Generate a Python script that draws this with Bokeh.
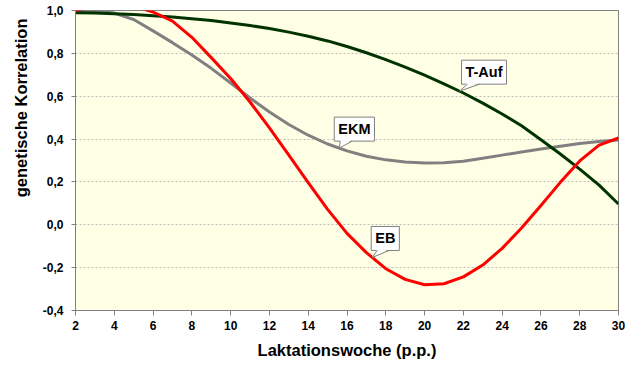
import numpy as np
from bokeh.plotting import figure
from bokeh.models import Label, Title, FixedTicker, CustomJSTickFormatter, Range1d
from bokeh.embed import file_html
from bokeh.resources import INLINE

# ---- data ----
weeks = list(range(2, 31))
t_auf = [0.99, 0.988, 0.985, 0.981, 0.976, 0.97, 0.962, 0.953, 0.942, 0.93,
         0.916, 0.899, 0.88, 0.858, 0.832, 0.803, 0.771, 0.736, 0.698, 0.658,
         0.615, 0.568, 0.517, 0.462, 0.397, 0.33, 0.26, 0.185, 0.097]
ekm = [1.0, 0.998, 0.988, 0.958, 0.905, 0.85, 0.792, 0.73, 0.662, 0.592,
       0.526, 0.468, 0.418, 0.377, 0.345, 0.32, 0.303, 0.293, 0.288, 0.289,
       0.296, 0.31, 0.325, 0.34, 0.354, 0.367, 0.379, 0.389, 0.396]
eb = [1.0, 1.02, 1.03, 1.02, 0.993, 0.95, 0.875, 0.78, 0.683, 0.573,
      0.452, 0.325, 0.197, 0.072, -0.04, -0.13, -0.205, -0.255, -0.28, -0.275,
      -0.243, -0.188, -0.11, -0.015, 0.09, 0.198, 0.298, 0.372, 0.405]
x_ticks = list(range(2, 31, 2))
y_ticks = [-0.4, -0.2, 0.0, 0.2, 0.4, 0.6, 0.8, 1.0]
label_names = ["T-Auf", "EKM", "EB"]
label_weeks = [21.8, 15.6, 17.3]
x_title = "Laktationswoche (p.p.)"
y_title = "genetische Korrelation"

FONT = "Liberation Sans"
FW, FH = 543, 300
X0, X1, Y0, Y1 = 2, 30, -0.4, 1.0

p = figure(frame_width=FW, frame_height=FH,
           x_range=Range1d(X0, X1), y_range=Range1d(Y0, Y1),
           output_backend="svg", toolbar_location=None,
           min_border_left=75, min_border_right=12, min_border_top=10,
           min_border_bottom=63)

p.background_fill_color = "#FFFFE6"
p.border_fill_color = "white"
p.outline_line_color = "#808080"
p.outline_line_width = 1

p.xgrid.grid_line_color = None
p.ygrid.grid_line_color = "#BDBDBD"
p.ygrid.grid_line_dash = "2 2"
p.ygrid.grid_line_width = 1

for ax in (p.xaxis[0], p.yaxis[0]):
    ax.axis_line_color = "#808080"
    ax.major_tick_line_color = "#808080"
    ax.major_tick_in = 0
    ax.minor_tick_line_color = None
    ax.major_label_text_font = FONT
    ax.major_label_text_font_style = "bold"
    ax.major_label_text_font_size = "12px"
    ax.major_label_text_color = "black"
    ax.axis_label_text_font = FONT
    ax.axis_label_text_font_style = "bold"
    ax.axis_label_text_font_size = "16.5px"
    ax.axis_label_text_color = "black"

p.xaxis.ticker = FixedTicker(ticks=x_ticks)
p.yaxis.ticker = FixedTicker(ticks=y_ticks)
p.yaxis.formatter = CustomJSTickFormatter(code="return tick.toFixed(1).replace('.', ',');")
p.xaxis.axis_label = x_title
p.xaxis.major_tick_out = 5
p.xaxis.major_label_standoff = 5
p.xaxis.axis_label_standoff = 8
p.yaxis.major_tick_out = 4
p.yaxis.major_label_standoff = 8

# y-axis title, towards the top like in the reference
p.add_layout(Title(text=y_title, align="right", offset=8, standoff=19,
                   text_font=FONT, text_font_style="bold",
                   text_font_size="16.5px", text_color="black"), "left")

p.line(weeks, ekm, line_color="#808080", line_width=3, line_join="round")
p.line(weeks, t_auf, line_color="#003300", line_width=3, line_join="round")
p.line(weeks, eb, line_color="#FF0000", line_width=3, line_join="round")

# ---- callouts ----
xs = (X1 - X0) / FW
ys = (Y1 - Y0) / FH
series = {"T-Auf": t_auf, "EKM": ekm, "EB": eb}
box_dx = {"T-Auf": 2, "EKM": -5, "EB": -1}
for name, wk in zip(label_names, label_weeks):
    ty = float(np.interp(wk, weeks, series[name]))
    dx = box_dx[name]
    dy = 7
    lab = Label(x=wk, y=ty, x_offset=dx, y_offset=dy, text=name,
                text_font=FONT, text_font_style="bold", text_font_size="14.5px",
                text_color="black", text_align="left", text_baseline="bottom",
                background_fill_color="white", border_line_color="#808080",
                border_line_width=1, padding=4)
    p.add_layout(lab)
    bx1 = wk + (dx + 6) * xs
    bx2 = wk + (dx + 18) * xs
    by = ty + (dy + 1.5) * ys
    byl = ty + dy * ys
    p.patch([wk, bx1, bx2], [ty, by, by], fill_color="white", line_color=None,
            level="overlay")
    p.line([bx1, wk, bx2], [byl, ty, byl], line_color="#808080", line_width=1,
           level="overlay")

open("out.html", "w").write(file_html(p, INLINE))
